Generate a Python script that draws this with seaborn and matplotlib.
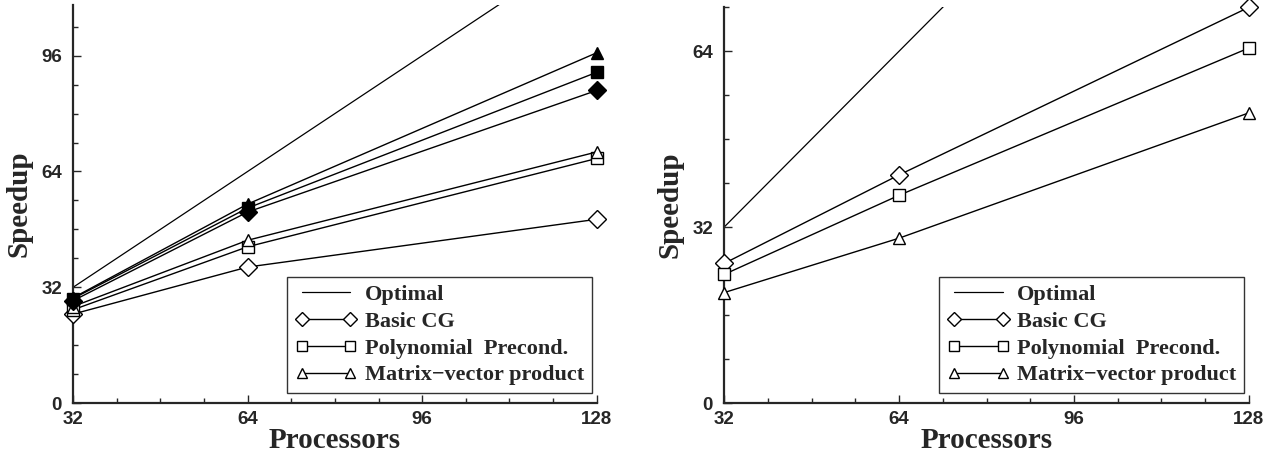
import numpy as np
import pandas as pd
import matplotlib
matplotlib.use("Agg")
import matplotlib.pyplot as plt
import seaborn as sns
from matplotlib.ticker import MultipleLocator

# ─────────────────────────────────────────────
# DATA
# ─────────────────────────────────────────────
procs = [32, 64, 128]

# left panel
left_optimal = [32, 64, 128]
left_basic = [24.6, 37.6, 50.8]
left_poly = [25.8, 43.2, 67.6]
left_matvec = [26.7, 45.0, 69.4]
left_basic_fill = [28.3, 52.8, 86.4]
left_poly_fill = [28.9, 53.9, 91.4]
left_matvec_fill = [29.1, 55.0, 96.8]

# right panel
right_optimal = [32, 64, 128]
right_basic = [25.4, 41.5, 72.0]
right_poly = [23.4, 37.8, 64.6]
right_matvec = [20.1, 30.0, 52.8]

legend_labels = ["Optimal", "Basic CG", "Polynomial  Precond.", "Matrix\u2212vector product"]

sns.set_style("ticks")
plt.rcParams["font.family"] = ["Liberation Sans", "DejaVu Sans"]
plt.rcParams["mathtext.default"] = "regular"

SERIF = ["Liberation Serif", "DejaVu Serif"]
MS = 9


def draw_series(ax, y, marker, filled, label=None):
    df = pd.DataFrame({"p": procs, "s": y})
    sns.lineplot(data=df, x="p", y="s", ax=ax, color="black", linewidth=1.0,
                 marker=marker, markersize=MS, markeredgecolor="black",
                 markeredgewidth=1.0,
                 markerfacecolor="black" if filled else "white",
                 label=label, clip_on=False, zorder=3)


def style_axes(ax, ymax, yticks):
    ax.set_xlim(32, 128)
    ax.set_ylim(0, ymax)
    ax.set_xticks([32, 64, 96, 128])
    ax.set_yticks(yticks)
    ax.xaxis.set_minor_locator(MultipleLocator(8))
    ax.yaxis.set_minor_locator(MultipleLocator(8))
    ax.tick_params(which="both", direction="in", width=1.0)
    ax.tick_params(which="major", length=6, labelsize=13.5)
    ax.tick_params(which="minor", length=3.5)
    ax.tick_params(axis="x", which="major", pad=6)
    ax.tick_params(axis="y", which="major", pad=8)
    for lab in ax.get_xticklabels() + ax.get_yticklabels():
        lab.set_fontweight("bold")
    for side in ["top", "right"]:
        ax.spines[side].set_visible(False)
    for side in ["left", "bottom"]:
        ax.spines[side].set_linewidth(1.6)
    ax.set_xlabel("Processors", fontsize=21, fontweight="bold", family=SERIF, labelpad=-1)
    ax.set_ylabel("Speedup", fontsize=21, fontweight="bold", family=SERIF, labelpad=6)
    leg = ax.legend(loc="lower right", numpoints=2, handlelength=2.8, markerscale=0.75,
                    frameon=True, fancybox=False, edgecolor="black",
                    borderaxespad=0.45, borderpad=0.35, labelspacing=0.28,
                    handletextpad=0.35, bbox_to_anchor=(1.01, 0.0),
                    prop={"family": SERIF, "weight": "bold", "size": 16})
    leg.get_frame().set_linewidth(1.0)


fig = plt.figure(figsize=(12.68, 4.54), dpi=100)
ax1 = fig.add_axes([0.0576, 0.112, 0.413, 0.877])
ax2 = fig.add_axes([0.571, 0.112, 0.414, 0.872])

# left panel
sns.lineplot(x=procs, y=left_optimal, ax=ax1, color="black", linewidth=0.9,
             label=legend_labels[0], zorder=2)
draw_series(ax1, left_basic, "D", False, legend_labels[1])
draw_series(ax1, left_poly, "s", False, legend_labels[2])
draw_series(ax1, left_matvec, "^", False, legend_labels[3])
draw_series(ax1, left_basic_fill, "D", True)
draw_series(ax1, left_poly_fill, "s", True)
draw_series(ax1, left_matvec_fill, "^", True)
style_axes(ax1, 110, [0, 32, 64, 96])

# right panel
sns.lineplot(x=procs, y=right_optimal, ax=ax2, color="black", linewidth=0.9,
             label=legend_labels[0], zorder=2)
draw_series(ax2, right_basic, "D", False, legend_labels[1])
draw_series(ax2, right_poly, "s", False, legend_labels[2])
draw_series(ax2, right_matvec, "^", False, legend_labels[3])
style_axes(ax2, 72, [0, 32, 64])

fig.savefig("out.png", dpi=100)
plt.close(fig)
